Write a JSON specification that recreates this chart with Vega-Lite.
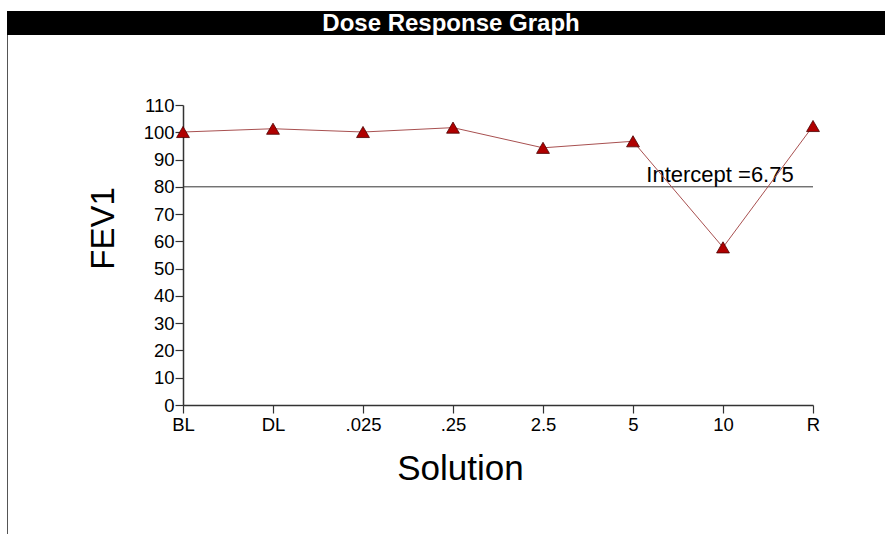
{
  "$schema": "https://vega.github.io/schema/vega-lite/v6.json",
  "padding": {"left": 7, "top": 11, "right": 0, "bottom": 0},
  "background": "white",
  "datasets": {
    "title": [{"label": "Dose Response Graph"}],
    "fev": [
      {"Solution": "BL", "FEV1": 100.1},
      {"Solution": "DL", "FEV1": 101.3},
      {"Solution": ".025", "FEV1": 100.1},
      {"Solution": ".25", "FEV1": 101.7},
      {"Solution": "2.5", "FEV1": 94.3},
      {"Solution": "5", "FEV1": 96.7},
      {"Solution": "10", "FEV1": 57.8},
      {"Solution": "R", "FEV1": 102.3}
    ],
    "threshold": [{"Solution": "10", "FEV1": 80, "label": "Intercept =6.75"}],
    "empty": []
  },
  "bounds": "flush",
  "spacing": 0,
  "vconcat": [
    {
      "width": 878,
      "height": 24,
      "view": {"fill": "black", "stroke": null},
      "data": {"name": "title"},
      "mark": {"type": "text", "color": "white", "font": "Liberation Sans", "fontSize": 24, "fontWeight": "bold", "baseline": "middle", "align": "center", "dx": 5, "dy": 1},
      "encoding": {"text": {"field": "label"}}
    },
    {
      "bounds": "flush",
      "spacing": 175,
      "hconcat": [
        {
          "width": 1,
          "height": 499,
          "view": {"fill": "#555555", "stroke": null},
          "data": {"name": "empty"},
          "mark": "point",
          "encoding": {}
        },
        {
          "width": 630,
          "height": 370,
          "layer": [
            {
              "data": {"name": "threshold"},
              "mark": {"type": "rule", "color": "#333333", "strokeWidth": 1},
              "encoding": {"y": {"field": "FEV1", "type": "quantitative"}}
            },
            {
              "data": {"name": "threshold"},
              "mark": {"type": "text", "font": "Liberation Sans", "fontSize": 22, "color": "black", "baseline": "alphabetic", "align": "center", "dx": -3, "dy": -5},
              "encoding": {
                "x": {
                  "field": "Solution",
                  "type": "ordinal",
                  "scale": {"type": "point", "padding": 0, "domain": ["BL", "DL", ".025", ".25", "2.5", "5", "10", "R"]},
                  "axis": {"title": "Solution", "labelAngle": 0, "titleX": 277, "titleY": 74, "titleBaseline": "alphabetic", "titleAlign": "center", "labelPadding": 2, "titleFontSize": 35}
                },
                "y": {"field": "FEV1", "type": "quantitative"},
                "text": {"field": "label"}
              }
            },
            {
              "data": {"name": "fev"},
              "mark": {"type": "line", "color": "#a85050", "strokeWidth": 1},
              "encoding": {
                "x": {
                  "field": "Solution",
                  "type": "ordinal",
                  "scale": {"type": "point", "padding": 0, "domain": ["BL", "DL", ".025", ".25", "2.5", "5", "10", "R"]},
                  "axis": {"title": "Solution", "labelAngle": 0, "titleX": 277, "titleY": 74, "titleBaseline": "alphabetic", "titleAlign": "center", "labelPadding": 2, "titleFontSize": 35}
                },
                "y": {"field": "FEV1", "type": "quantitative"}
              }
            },
            {
              "data": {"name": "fev"},
              "mark": {"type": "point", "shape": "triangle-up", "filled": true, "fill": "#b00000", "stroke": "#4a0000", "strokeWidth": 0.8, "opacity": 1, "size": 165},
              "encoding": {
                "x": {
                  "field": "Solution",
                  "type": "ordinal",
                  "scale": {"type": "point", "padding": 0, "domain": ["BL", "DL", ".025", ".25", "2.5", "5", "10", "R"]},
                  "axis": {"title": "Solution", "labelAngle": 0, "titleX": 277, "titleY": 74, "titleBaseline": "alphabetic", "titleAlign": "center", "labelPadding": 2, "titleFontSize": 35}
                },
                "y": {"field": "FEV1", "type": "quantitative"}
              }
            }
          ],
          "encoding": {
            "y": {
              "field": "FEV1",
              "type": "quantitative",
              "scale": {"domain": [0, 110], "range": [370, 70], "nice": false, "zero": true},
              "axis": {"title": "FEV1", "values": [0, 10, 20, 30, 40, 50, 60, 70, 80, 90, 100, 110], "titleAngle": 270, "titleX": -70, "titleY": 193, "titleBaseline": "alphabetic", "titleAlign": "center", "labelPadding": 1}
            }
          }
        }
      ]
    }
  ],
  "config": {
    "view": {"stroke": null},
    "axis": {
      "grid": false,
      "domainColor": "#333333",
      "domainWidth": 1.5,
      "tickColor": "#333333",
      "tickWidth": 1.2,
      "tickSize": 8,
      "labelFont": "Liberation Sans",
      "labelFontSize": 18.5,
      "labelColor": "black",
      "titleFont": "Liberation Sans",
      "titleFontSize": 33,
      "titleFontWeight": "normal",
      "titleColor": "black"
    }
  }
}
